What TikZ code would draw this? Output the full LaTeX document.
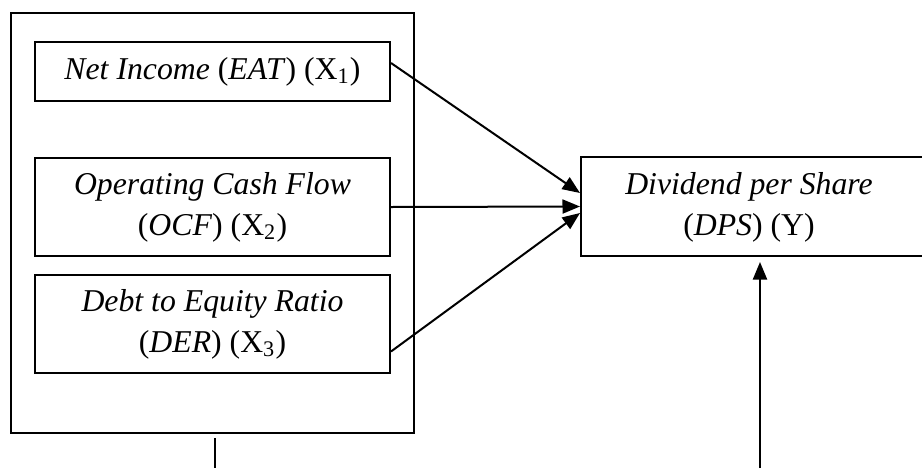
\documentclass[tikz,border=0pt]{standalone}
\usepackage{fontspec}
\setmainfont{Liberation Serif}
\usepackage{tikz}
\usetikzlibrary{arrows.meta}
\usetikzlibrary{positioning}

\begin{document}
\begin{tikzpicture}[x=0.4pt,y=-0.4pt,line width=0.8pt,
	>={Triangle[length=7pt,width=5.6pt]},
	var/.style={draw,rectangle,align=center,inner sep=0pt,
	            font=\fontsize{12.7}{16.5}\selectfont}]
	\useasboundingbox (0,0) rectangle (922,468);
	% outer group and the three variables
	\node[draw,minimum width=161.2pt,minimum height=168pt,inner sep=0pt] (group) at (212.5,223) {};
	\node[var,minimum width=142pt,minimum height=23.6pt] (eat) at (212.5,71.5) {\textit{Net Income} (\textit{EAT}) (X\textsubscript{1})};
	\node[var,minimum width=142pt,minimum height=39.2pt] (ocf) at (212.5,207) {\textit{Operating Cash Flow}\\(\textit{OCF}) (X\textsubscript{2})};
	\node[var,minimum width=142pt,minimum height=39.2pt] (der) at (212.5,324) {\textit{Debt to Equity Ratio}\\(\textit{DER}) (X\textsubscript{3})};
	% dependent variable
	\node[var,minimum width=160pt,minimum height=39.6pt] (dps) at (580,206.5) [anchor=west] {};
	\node[font=\fontsize{12.7}{16.5}\selectfont,align=center] (dpstext) at (749,207.5) {\textit{Dividend per Share}\\(\textit{DPS}) (Y)};
	% free ends at the bottom
	\coordinate (xbot) at (215,468);
	\coordinate (ybot) at (760,468);

	\draw[->] ([yshift=3.4pt]eat.east) -- ([yshift=5.4pt]dps.west);
	\draw[->] (ocf.east) -- (dps.west);
	\draw[->] ([yshift=-11pt]der.east) -- ([yshift=-2.6pt]dps.west);
	\draw ([yshift=-1.6pt]xbot |- group.south) -- (xbot);
	\draw[->] (ybot) -- ([yshift=-2pt]ybot |- dps.south);
\end{tikzpicture}
\end{document}
